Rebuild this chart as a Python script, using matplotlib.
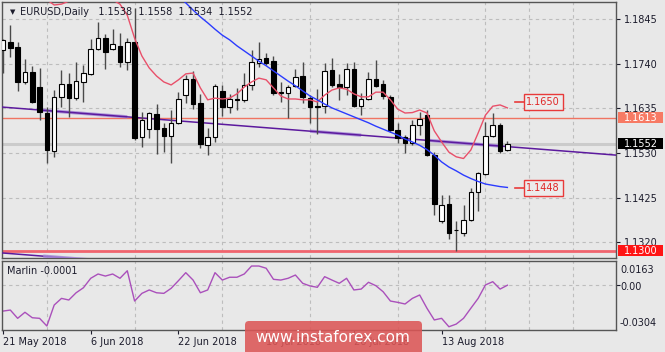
import matplotlib
matplotlib.use('Agg')
import matplotlib.pyplot as plt
import numpy as np
from matplotlib.patches import Rectangle, FancyBboxPatch
from matplotlib.transforms import blended_transform_factory

# ---------------- data ----------------
opens = [1.1772, 1.1790, 1.1780, 1.1696, 1.1721, 1.1684, 1.1623, 1.1535, 1.1662, 1.1692,
         1.1659, 1.1696, 1.1715, 1.1774, 1.1800, 1.1774, 1.1782, 1.1745, 1.1792, 1.1568,
         1.1586, 1.1621, 1.1589, 1.1570, 1.1600, 1.1666, 1.1704, 1.1647, 1.1549, 1.1567,
         1.1676, 1.1639, 1.1658, 1.1655, 1.1690, 1.1741, 1.1753, 1.1746, 1.1674, 1.1670,
         1.1688, 1.1711, 1.1660, 1.1641, 1.1641, 1.1725, 1.1692, 1.1686, 1.1727, 1.1641,
         1.1656, 1.1704, 1.1692, 1.1662, 1.1584, 1.1568, 1.1553, 1.1596, 1.1619, 1.1525,
         1.1371, 1.1410, 1.1350, 1.1343, 1.1372, 1.1438, 1.1480, 1.1570, 1.1596, 1.1538]
highs = [1.1798, 1.1831, 1.1790, 1.1750, 1.1735, 1.1729, 1.1639, 1.1678, 1.1725, 1.1717,
         1.1745, 1.1737, 1.1797, 1.1839, 1.1809, 1.1821, 1.1811, 1.1801, 1.1871, 1.1627,
         1.1627, 1.1645, 1.1600, 1.1631, 1.1674, 1.1713, 1.1723, 1.1669, 1.1589, 1.1692,
         1.1690, 1.1669, 1.1682, 1.1719, 1.1772, 1.1792, 1.1764, 1.1758, 1.1698, 1.1690,
         1.1727, 1.1745, 1.1666, 1.1680, 1.1741, 1.1753, 1.1716, 1.1741, 1.1745, 1.1670,
         1.1721, 1.1749, 1.1702, 1.1666, 1.1601, 1.1572, 1.1608, 1.1627, 1.1631, 1.1533,
         1.1431, 1.1431, 1.1369, 1.1408, 1.1447, 1.1486, 1.1604, 1.1623, 1.1601, 1.1558]
lows = [1.1718, 1.1756, 1.1676, 1.1692, 1.1647, 1.1608, 1.1507, 1.1520, 1.1637, 1.1615,
        1.1655, 1.1651, 1.1713, 1.1772, 1.1727, 1.1771, 1.1733, 1.1725, 1.1561, 1.1543,
        1.1565, 1.1528, 1.1533, 1.1506, 1.1598, 1.1647, 1.1633, 1.1541, 1.1525, 1.1557,
        1.1617, 1.1623, 1.1631, 1.1651, 1.1678, 1.1733, 1.1737, 1.1666, 1.1651, 1.1612,
        1.1684, 1.1648, 1.1600, 1.1574, 1.1625, 1.1684, 1.1655, 1.1666, 1.1637, 1.1619,
        1.1655, 1.1684, 1.1656, 1.1580, 1.1553, 1.1529, 1.1549, 1.1572, 1.1523, 1.1384,
        1.1366, 1.1327, 1.1300, 1.1335, 1.1369, 1.1394, 1.1478, 1.1567, 1.1529, 1.1534]
closes = [1.1796, 1.1778, 1.1696, 1.1721, 1.1649, 1.1627, 1.1537, 1.1661, 1.1692, 1.1659,
          1.1699, 1.1717, 1.1774, 1.1800, 1.1768, 1.1786, 1.1745, 1.1790, 1.1566, 1.1608,
          1.1623, 1.1586, 1.1570, 1.1601, 1.1656, 1.1703, 1.1645, 1.1551, 1.1567, 1.1688,
          1.1637, 1.1657, 1.1655, 1.1690, 1.1745, 1.1750, 1.1741, 1.1672, 1.1670, 1.1684,
          1.1709, 1.1661, 1.1639, 1.1637, 1.1723, 1.1690, 1.1684, 1.1727, 1.1641, 1.1656,
          1.1704, 1.1688, 1.1664, 1.1584, 1.1565, 1.1553, 1.1596, 1.1609, 1.1525, 1.1410,
          1.1408, 1.1341, 1.1348, 1.1372, 1.1439, 1.1482, 1.1570, 1.1596, 1.1535, 1.1552]

red_start = 5
red_ma = [1.1900, 1.1890, 1.1878, 1.1880, 1.1887, 1.1897, 1.1904, 1.1908, 1.1908, 1.1903,
          1.1890, 1.1880, 1.1854, 1.1800, 1.1758, 1.1730, 1.1711, 1.1697, 1.1690, 1.1702,
          1.1716, 1.1718, 1.1683, 1.1655, 1.1659, 1.1657, 1.1659, 1.1669, 1.1685, 1.1697,
          1.1706, 1.1702, 1.1683, 1.1664, 1.1657, 1.1657, 1.1655, 1.1655, 1.1650, 1.1666,
          1.1678, 1.1683, 1.1680, 1.1669, 1.1662, 1.1662, 1.1673, 1.1673, 1.1655, 1.1633,
          1.1624, 1.1625, 1.1631, 1.1624, 1.1582, 1.1556, 1.1532, 1.1521, 1.1517, 1.1537,
          1.1577, 1.1619, 1.1640, 1.1643, 1.1636]

blue_start = 23
blue_ma = [1.1911, 1.1897, 1.1883, 1.1866, 1.1850, 1.1836, 1.1821, 1.1807, 1.1796, 1.1782,
           1.1770, 1.1758, 1.1746, 1.1735, 1.1723, 1.1711, 1.1699, 1.1688, 1.1676, 1.1664,
           1.1655, 1.1645, 1.1636, 1.1629, 1.1622, 1.1615, 1.1608, 1.1601, 1.1593, 1.1586,
           1.1579, 1.1572, 1.1563, 1.1556, 1.1548, 1.1538, 1.1525, 1.1509, 1.1497, 1.1488,
           1.1478, 1.1470, 1.1463, 1.1457, 1.1454, 1.1451, 1.1449]

marlin = [-0.0176, -0.0169, -0.0225, -0.0184, -0.0221, -0.0225, -0.0277, -0.0135, -0.0090, -0.0101,
          -0.0052, -0.0018, 0.0046, 0.0075, 0.0061, 0.0075, 0.0046, 0.0097, -0.0108, -0.0056,
          -0.0033, -0.0052, -0.0056, -0.0022, 0.0030, 0.0084, 0.0034, -0.0052, -0.0033, 0.0084,
          0.0034, 0.0053, 0.0053, 0.0075, 0.0129, 0.0129, 0.0114, 0.0039, 0.0034, 0.0046,
          0.0068, 0.0012, -0.0006, -0.0015, 0.0057, 0.0034, 0.0012, 0.0046, -0.0033, -0.0027,
          0.0019, -0.0004, -0.0045, -0.0108, -0.0117, -0.0128, -0.0090, -0.0067, -0.0157, -0.0236,
          -0.0225, -0.0282, -0.0264, -0.0225, -0.0157, -0.0090, 0.0001, 0.0023, -0.0027, -0.0001]

trend_x = [-0.14, 83.86]
trend_upper = [1.1638, 1.1525]
trend_lower = [1.1295, 1.1182]
trend_light = [(5, 17), (42, 49), (58, 68)]
lower_light = [(5.5, 12)]

level_resist = 1.1613
level_support = 1.1300
last_price = 1.1552
target_up = 1.1650
target_dn = 1.1448

price_ticks = [1.1845, 1.1740, 1.1635, 1.1530, 1.1425, 1.1320]
date_tick_pos = [0, 12, 24, 36, 48, 60]
date_labels = ['21 May 2018', '6 Jun 2018', '22 Jun 2018', '10 Jul 2018', '26 Jul 2018', '13 Aug 2018']

# ---------------- style ----------------
BG = '#e8e8e8'
TXT = '#1c1c2c'
GRID = '#bdbdbd'
W, H = 665, 352
plt.rcParams['font.family'] = ['DejaVu Sans']

fig = plt.figure(figsize=(W / 100, H / 100), dpi=100, facecolor=BG)
ax = fig.add_axes([2 / W, 1 - 258 / H, 614 / W, 256 / H], facecolor=BG)
axm = fig.add_axes([2 / W, 1 - 330 / H, 614 / W, 69 / H], facecolor=BG, sharex=ax)

n = len(opens)
x = np.arange(n)
ax.set_xlim(-0.14, 83.86)
ax.set_ylim(1.12831, 1.18850)

for a in (ax, axm):
    for s in a.spines.values():
        s.set_color('#555555')
        s.set_linewidth(1.0)

# grid
grid_pos = np.arange(0, 84, 6)
for a in (ax, axm):
    a.set_xticks(grid_pos, minor=True)
    a.grid(which='minor', axis='x', color=GRID, lw=0.8, dashes=(3, 3))
    a.tick_params(axis='x', which='minor', length=0)
ax.set_yticks(price_ticks)
ax.set_yticklabels([f'{v:.4f}' for v in price_ticks])
ax.grid(which='major', axis='y', color=GRID, lw=0.8, dashes=(3, 3))
ax.yaxis.tick_right()
ax.tick_params(axis='y', which='major', length=3, pad=2.5, labelsize=7, colors=TXT, width=0.8)
ax.tick_params(axis='x', which='major', length=0, labelbottom=False)
ax.set_xticks([])
ax.set_axisbelow(True)

# horizontal levels
ax.axhline(last_price, color='#cbcbcb', lw=2.2, zorder=1)
ax.axhline(level_resist, color='#f07462', lw=1.0, zorder=2)
ax.axhline(level_support, color='#f0646e', lw=2.0, zorder=2)

# trend lines
ax.plot(trend_x, trend_upper, color='#5c1a9e', lw=1.1, zorder=3)
for a0, a1 in trend_light:
    xs = np.array([a0, a1])
    ax.plot(xs, np.interp(xs, trend_x, trend_upper), color='#a487d6', lw=2.4, alpha=0.85,
            zorder=2.9, solid_capstyle='butt')
ax.plot(trend_x, trend_lower, color='#5c1a9e', lw=1.1, zorder=3)
for a0, a1 in lower_light:
    xs = np.array([a0, a1])
    ax.plot(xs, np.interp(xs, trend_x, trend_lower), color='#a487d6', lw=2.4, alpha=0.85,
            zorder=3.1, solid_capstyle='butt')

# candles
o = np.array(opens); c = np.array(closes); h = np.array(highs); l = np.array(lows)
ax.vlines(x, l, h, color='#4a4a4a', lw=1.0, zorder=4)
bottom = np.minimum(o, c)
height = np.maximum(np.abs(c - o), 0.00004)
fill = ['white' if cc >= oo else 'black' for oo, cc in zip(o, c)]
ax.bar(x, height, bottom=bottom, width=0.62, color=fill, edgecolor='black', linewidth=0.8, zorder=5)

# moving averages
ax.plot(np.arange(red_start, red_start + len(red_ma)), red_ma, color='#e8506a', lw=1.0, zorder=6)
ax.plot(np.arange(blue_start, blue_start + len(blue_ma)), blue_ma, color='#2b3bff', lw=1.0, zorder=6)

# target annotations
for lvl in (target_up, target_dn):
    ax.plot([70.0, 71.3], [lvl, lvl], color='#e83a3a', lw=1.2, zorder=7)
    ax.text(73.9, lvl, f'{lvl:.4f}', color='#e02828', fontsize=7, ha='center', va='center', zorder=8,
            bbox=dict(boxstyle='square,pad=0.28', fc='#ececec', ec='#e83a3a', lw=1.0))

# right price tags
tr = blended_transform_factory(ax.transAxes, ax.transData)
hpx = 0.0002351 * 11
for lvl, bgc in ((level_resist, '#f77a64'), (last_price, '#000000'), (level_support, '#ff1414')):
    ax.add_patch(Rectangle((1.0033, lvl - hpx / 2), 0.0733, hpx, transform=tr, clip_on=False,
                           fc=bgc, ec='none', zorder=20))
    ax.text(1.0033 + 0.0733 / 2, lvl, f'{lvl:.4f}', transform=tr, color='white', fontsize=7,
            ha='center', va='center', zorder=21, clip_on=False)

# title
ax.text(8 / 614, 1 - 10 / 256, '\u25bc', transform=ax.transAxes, fontsize=5, color=TXT, va='center', ha='left', zorder=9)
ax.text(18 / 614, 1 - 10 / 256, 'EURUSD,Daily   1.1538  1.1558  1.1534  1.1552', transform=ax.transAxes,
        fontsize=7, color=TXT, va='center', ha='left', zorder=9)

# indicator panel
axm.set_ylim(-0.0304, 0.0163)
axm.plot(x, marlin, color='#aa50bb', lw=1.0)
axm.set_yticks([0.0])
axm.set_yticklabels([])
axm.yaxis.tick_right()
axm.tick_params(axis='y', length=3, colors=TXT, width=0.8)
axm.grid(which='major', axis='y', color=GRID, lw=0.8, dashes=(3, 3))
for yy, lab in ((1 - 9 / 69, '0.0163'), (1 - 25.5 / 69, '0.00'), (1 - 62 / 69, '-0.0304')):
    axm.text(1 + 4 / 614, yy, lab, transform=axm.transAxes, fontsize=7, color=TXT, ha='left', va='center',
             clip_on=False)
axm.text(5 / 614, 1 - 10 / 69, 'Marlin -0.0001', transform=axm.transAxes, fontsize=7, color=TXT,
         ha='left', va='center')
axm.set_xticks(date_tick_pos)
axm.set_xticklabels(date_labels, ha='left')
axm.tick_params(axis='x', which='major', length=3, pad=2, labelsize=7, colors=TXT, width=0.8)

# watermark
wm = FancyBboxPatch((2.45, -0.10), 1.77, 0.41, boxstyle='round,pad=0,rounding_size=0.04',
                    transform=fig.dpi_scale_trans, fc='#dc5656', ec='none', alpha=0.88, zorder=30)
fig.add_artist(wm)
fig.text(333 / W, 1 - 337 / H, 'www.instaforex.com', color='white', fontsize=11, ha='center', va='center',
         zorder=31)

fig.savefig('out.png', dpi=100, facecolor=BG)
